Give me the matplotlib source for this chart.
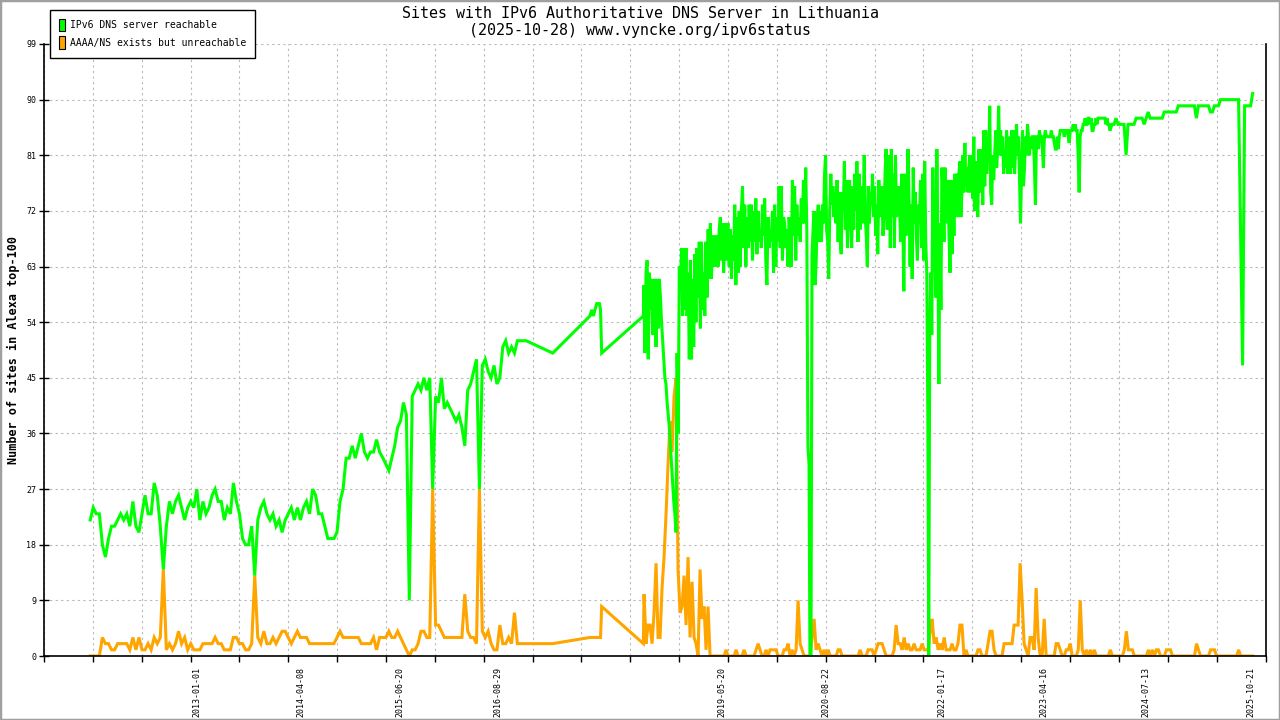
import numpy as np
import pandas as pd
import matplotlib
matplotlib.use("Agg")
from matplotlib import pyplot as plt
from matplotlib.patches import Patch, Rectangle
import matplotlib.dates as mdates

# sites (out of the Alexa top-100)
# each run is a stretch of regularly spaced samples between two dates

# --- 2011-2016, both series share the sample dates
run_a_span = ("2011-09-15", "2015-03-22")
run_a_ok = [22, 24, 23, 23, 18, 16, 19, 21, 21, 22, 23, 22, 23, 21, 25, 21, 20, 23, 26, 23,
            23, 28, 26, 21, 14, 21, 25, 23, 25, 26, 24, 22, 24, 25, 24, 27, 22, 25, 23, 24,
            26, 27, 25, 25, 22, 24, 23, 28, 25, 23, 19, 18, 18, 21, 13, 22, 24, 25, 23, 22,
            23, 21, 22, 20, 22, 23, 24, 22, 24, 22, 24, 25, 23, 27, 26, 23, 23, 21, 19, 19,
            19, 20, 25, 27, 32, 32, 34, 32, 34, 36, 33, 32, 33, 33, 35, 33]
run_a_bad = [0, 0, 0, 0, 3, 2, 2, 1, 1, 2, 2, 2, 2, 1, 3, 1, 3, 1, 1, 2,
             1, 3, 2, 3, 14, 1, 2, 1, 2, 4, 2, 3, 1, 2, 1, 1, 1, 2, 2, 2,
             2, 3, 2, 2, 1, 1, 1, 3, 3, 2, 2, 1, 1, 2, 13, 3, 2, 4, 2, 2,
             3, 2, 3, 4, 4, 3, 2, 3, 4, 3, 3, 3, 2, 2, 2, 2, 2, 2, 2, 2,
             2, 3, 4, 3, 3, 3, 3, 3, 3, 2, 2, 2, 2, 3, 1, 3]

run_b_span = ("2015-04-06", "2016-12-31")
run_b_ok = [32, 31, 30, 32, 34, 37, 38, 41, 39, 9, 42, 43, 44, 43, 45, 43, 45, 27, 42, 41,
            45, 40, 41, 40, 39, 38, 39, 37, 34, 43, 44, 46, 48, 27, 47, 48, 46, 45, 47, 44,
            45, 50, 51, 49, 50, 49, 51, 51, 51, 51]
run_b_bad = [3, 3, 4, 3, 3, 4, 3, 2, 1, 0, 1, 1, 2, 4, 4, 3, 3, 27, 5, 5,
             4, 3, 3, 3, 3, 3, 3, 3, 10, 4, 3, 3, 2, 27, 4, 3, 4, 2, 1, 1,
             5, 2, 2, 3, 2, 7, 2, 2, 2, 2]

# sparse measurements during 2017-2018
gap_dates = ["2017-04-28", "2017-10-10", "2017-10-18", "2017-10-25", "2017-11-09",
             "2017-11-21", "2017-11-26", "2017-12-01", "2018-06-04"]
gap_ok = [49, 55, 56, 55, 57, 57, 56, 49, 55]
gap_bad = [2, 3, 3, 3, 3, 3, 3, 8, 2]

# --- 2018-2025, reachable sites (denser reading of the noisy years)
run_c1_span = ("2018-06-06", "2020-06-08")
run_c1_ok = [60, 49, 62, 64, 48, 62, 56, 61, 52, 59, 61, 50, 61, 53, 61, 58, 54, 51, 48, 45,
             44, 41, 39, 37, 34, 31, 28, 25, 23, 20, 49, 36, 63, 59, 66, 55, 66, 56, 66, 55,
             62, 48, 64, 48, 61, 50, 65, 54, 66, 58, 67, 53, 67, 56, 62, 55, 67, 58, 69, 61,
             70, 61, 68, 63, 68, 63, 68, 63, 69, 71, 64, 70, 62, 70, 64, 69, 70, 63, 69, 61,
             68, 64, 73, 60, 71, 62, 72, 63, 72, 76, 66, 73, 63, 71, 66, 73, 67, 73, 64, 72,
             67, 74, 65, 72, 67, 69, 66, 73, 68, 74, 64, 60, 71, 66, 69, 67, 72, 62, 73, 63,
             71, 67, 76, 66, 76, 64, 71, 70, 66, 69, 63, 71, 68, 63, 77, 68, 76, 64, 73, 68,
             71, 67, 74, 70, 77, 70, 79, 69, 34, 31]
run_c2_span = ("2020-06-12", "2021-11-17")
run_c2_ok = [0, 0, 65, 69, 72, 60, 64, 71, 73, 67, 72, 67, 73, 70, 78, 81, 69, 67, 61, 72,
             78, 73, 76, 71, 75, 70, 77, 67, 75, 67, 65, 75, 72, 80, 69, 77, 66, 74, 77, 71,
             66, 76, 69, 78, 72, 80, 67, 78, 69, 73, 76, 70, 81, 71, 68, 63, 76, 70, 75, 73,
             78, 71, 76, 68, 73, 65, 77, 71, 74, 76, 68, 71, 78, 82, 69, 72, 81, 66, 82, 71,
             78, 66, 81, 71, 74, 76, 72, 67, 78, 71, 59, 78, 68, 72, 82, 73, 63, 73, 61, 79,
             70, 75, 68, 64, 73, 70, 77, 66, 78, 64, 80, 67, 62, 39]
run_c3_span = ("2021-11-21", "2022-02-28")
run_c3_ok = [0, 52, 62, 52, 79, 70, 66, 58, 82, 67, 44, 70, 56, 79, 75, 67, 79, 70, 73, 77,
             68, 62, 77]
run_d1_span = ("2022-03-04", "2024-02-03")
run_d1_ok = [65, 75, 68, 78, 71, 78, 71, 78, 80, 71, 75, 81, 75, 83, 76, 79, 75, 79, 81, 75,
             81, 74, 84, 72, 80, 75, 71, 82, 79, 75, 82, 73, 85, 76, 85, 78, 82, 80, 89, 75,
             73, 81, 77, 81, 85, 79, 82, 89, 81, 85, 81, 84, 78, 81, 79, 85, 78, 84, 81, 78,
             85, 79, 85, 78, 82, 86, 81, 84, 77, 70, 78, 85, 76, 79, 84, 81, 86, 84, 81, 84,
             82, 84, 84, 79, 73, 84, 84, 82, 85, 84, 84, 82, 79, 84, 85, 84, 84, 84, 84, 84,
             85, 84, 84, 83, 82, 82, 84, 82, 84, 85, 85, 85, 85, 84, 85, 85, 85, 84, 83, 85,
             85, 85, 86, 85, 86, 85, 85, 81, 75, 84, 85, 85, 86, 86, 87, 86, 86, 87, 87, 86,
             87, 85, 85, 86, 86, 87, 86, 87, 87, 87, 87, 87, 87, 87, 87, 86, 87, 86, 86, 85]
run_d2_span = ("2024-02-12", "2025-10-28")
run_d2_ok = [86, 86, 87, 86, 86, 86, 86, 81, 86, 86, 86, 86, 87, 87, 87, 87, 86, 87, 88, 87,
             87, 87, 87, 87, 87, 87, 88, 88, 88, 88, 88, 88, 88, 89, 89, 89, 89, 89, 89, 89,
             89, 89, 87, 89, 89, 89, 89, 89, 89, 88, 88, 89, 89, 89, 90, 90, 90, 90, 90, 90,
             90, 90, 90, 90, 69, 47, 89, 89, 89, 89, 91]

# --- 2018-2025, unreachable sites
run_c_span = ("2018-06-07", "2022-02-24")
run_c_bad = [10, 2, 5, 5, 2, 7, 15, 3, 3, 11, 16, 23, 31, 38, 33, 42, 45, 14, 7, 8,
             13, 5, 16, 3, 12, 3, 2, 0, 14, 6, 8, 1, 8, 0, 0, 0, 0, 0, 0, 0,
             0, 1, 0, 0, 0, 0, 1, 0, 0, 0, 1, 0, 0, 0, 0, 0, 1, 2, 1, 0,
             0, 1, 0, 1, 1, 1, 1, 0, 0, 0, 1, 1, 2, 0, 1, 0, 1, 9, 2, 1,
             0, 0, 0, 0, 3, 6, 1, 2, 1, 0, 1, 0, 1, 0, 0, 0, 0, 1, 1, 0,
             0, 0, 0, 0, 0, 0, 0, 0, 1, 0, 0, 0, 1, 1, 1, 0, 1, 2, 2, 2,
             1, 0, 0, 0, 0, 1, 5, 2, 2, 1, 3, 1, 2, 1, 1, 2, 1, 1, 1, 2,
             1, 1, 1, 4, 6, 2, 3, 1, 2, 1, 3, 1, 1, 1]
run_d_span = ("2022-03-04", "2025-10-28")
run_d_bad = [2, 1, 1, 2, 5, 5, 0, 1, 0, 0, 0, 0, 0, 1, 1, 0, 0, 0, 2, 4,
             4, 1, 0, 0, 0, 0, 2, 2, 2, 2, 2, 5, 5, 5, 15, 9, 2, 1, 0, 3,
             3, 1, 11, 3, 0, 0, 6, 0, 0, 0, 0, 0, 2, 2, 1, 0, 0, 1, 1, 2,
             0, 0, 0, 1, 9, 1, 0, 1, 0, 1, 0, 1, 0, 0, 0, 0, 0, 0, 0, 1,
             0, 0, 0, 0, 0, 0, 1, 4, 1, 1, 1, 0, 0, 0, 0, 0, 0, 0, 1, 0,
             1, 0, 1, 1, 0, 0, 0, 1, 1, 1, 0, 0, 0, 0, 0, 0, 0, 0, 0, 0,
             0, 0, 2, 1, 0, 0, 0, 0, 0, 1, 1, 1, 0, 0, 0, 0, 0, 0, 0, 0,
             0, 0, 0, 1, 0, 0, 0, 0, 0, 0, 0]

tick_dates = ["2013-01-01", "2014-04-08", "2015-06-20", "2016-08-29", "2019-05-20",
              "2020-08-22", "2022-01-17", "2023-04-16", "2024-07-13", "2025-10-21"]
x_range = ("2011-02-22", "2025-12-24")

title_1 = "Sites with IPv6 Authoritative DNS Server in Lithuania"
title_2 = "(2025-10-28) www.vyncke.org/ipv6status"
label_ok = "IPv6 DNS server reachable"
label_bad = "AAAA/NS exists but unreachable"

GREEN = "#00ff00"
ORANGE = "#ffa500"
MONO = "DejaVu Sans Mono"


def run_dates(span, n):
    return mdates.date2num(pd.date_range(span[0], span[1], periods=n))


gap_num = mdates.date2num(pd.to_datetime(gap_dates))

ok_x = np.concatenate([
    run_dates(run_a_span, len(run_a_ok)),
    run_dates(run_b_span, len(run_b_ok)),
    gap_num,
    run_dates(run_c1_span, len(run_c1_ok)),
    run_dates(run_c2_span, len(run_c2_ok)),
    run_dates(run_c3_span, len(run_c3_ok)),
    run_dates(run_d1_span, len(run_d1_ok)),
    run_dates(run_d2_span, len(run_d2_ok)),
])
ok_y = np.array(run_a_ok + run_b_ok + gap_ok + run_c1_ok + run_c2_ok + run_c3_ok
                + run_d1_ok + run_d2_ok, dtype=float)

bad_x = np.concatenate([
    run_dates(run_a_span, len(run_a_bad)),
    run_dates(run_b_span, len(run_b_bad)),
    gap_num,
    run_dates(run_c_span, len(run_c_bad)),
    run_dates(run_d_span, len(run_d_bad)),
])
bad_y = np.array(run_a_bad + run_b_bad + gap_bad + run_c_bad + run_d_bad, dtype=float)

fig = plt.figure(figsize=(12.8, 7.2), dpi=100)
ax = fig.add_axes([44 / 1280, 1 - 656 / 720, (1265.5 - 44) / 1280, (656 - 44) / 720])

# orange first so the green drops show on top of it
ax.plot(bad_x, bad_y, color=ORANGE, lw=2.2, solid_joinstyle="miter", zorder=3)
ax.plot(ok_x, ok_y, color=GREEN, lw=2.2, solid_joinstyle="miter", zorder=4)

x0, x1 = mdates.date2num(pd.to_datetime(list(x_range)))
ax.set_xlim(x0, x1)
ax.set_ylim(0, 99)

ax.set_xticks(np.linspace(x0, x1, 26))
ax.set_xticklabels([])
ax.set_xticks(mdates.date2num(pd.to_datetime(tick_dates)), minor=True)
ax.set_xticklabels(tick_dates, minor=True, rotation=90, fontsize=6, family=MONO)
ax.tick_params(axis="x", which="major", direction="out", length=4, width=1)
ax.tick_params(axis="x", which="minor", length=0, pad=8)

ax.set_yticks(np.arange(0, 100, 9))
ax.set_yticklabels([str(v) for v in range(0, 100, 9)], fontsize=6, family=MONO)
ax.tick_params(axis="y", direction="inout", length=7, width=1, pad=2)

ax.grid(True, which="major", color="#b8b8b8", lw=0.8, linestyle=(0, (2, 3)))
ax.set_axisbelow(True)
ax.spines["top"].set_visible(False)
for s in ("left", "bottom", "right"):
    ax.spines[s].set_linewidth(1.2)
    ax.spines[s].set_zorder(5)

fig.text(0.5, 1 - 13 / 720, title_1, ha="center", va="center", fontsize=10.8, family=MONO)
fig.text(0.5, 1 - 31 / 720, title_2, ha="center", va="center", fontsize=10.8, family=MONO)
fig.text(13 / 1280, 1 - 350 / 720, "Number of sites in Alexa top-100", rotation=90,
         ha="center", va="center", fontsize=8.5, family=MONO, fontweight="bold")

handles = [Patch(facecolor=GREEN, edgecolor="black", lw=0.8, label=label_ok),
           Patch(facecolor=ORANGE, edgecolor="black", lw=0.8, label=label_bad)]
leg = fig.legend(handles=handles, loc="upper left", bbox_to_anchor=(50 / 1280, 1 - 10 / 720),
                 bbox_transform=fig.transFigure, borderaxespad=0, fancybox=False,
                 prop={"family": MONO, "size": 7.0}, handlelength=0.68, handleheight=1.62,
                 handletextpad=0.45, labelspacing=0.5, borderpad=0.9, framealpha=1)
leg.get_frame().set_edgecolor("black")
leg.get_frame().set_linewidth(1.0)

# thin grey frame around the whole picture
fig.patches.append(Rectangle((0, 0), 1, 1, transform=fig.transFigure, fill=False,
                             edgecolor="#a0a0a0", lw=2.5))

fig.savefig("out.png", dpi=100)
